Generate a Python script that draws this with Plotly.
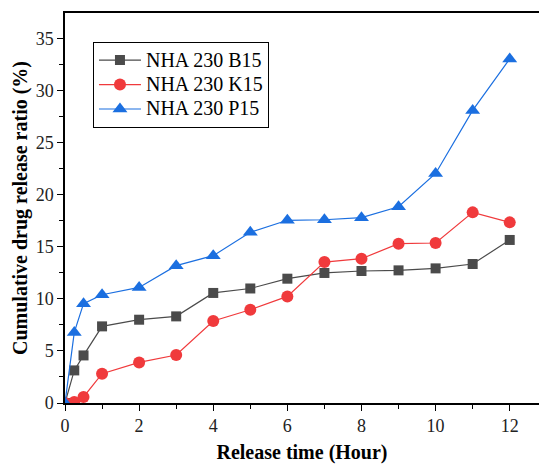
import plotly.graph_objects as go

# Sampling times (hours)
hours = [0, 0.25, 0.5, 1, 2, 3, 4, 5, 6, 7, 8, 9, 10, 11, 12]

# Cumulative drug release ratio (%) for each formulation
b15 = [0, 3.13, 4.57, 7.36, 8.0, 8.32, 10.57, 11.0, 11.94, 12.49, 12.68, 12.74, 12.93, 13.35, 15.66]
k15 = [0, 0.1, 0.58, 2.81, 3.9, 4.61, 7.88, 8.96, 10.24, 13.54, 13.86, 15.3, 15.37, 18.31, 17.35]
p15 = [0, 6.78, 9.54, 10.4, 11.1, 13.19, 14.15, 16.4, 17.55, 17.6, 17.8, 18.85, 22.05, 28.1, 33.05]

series_names = ["NHA 230 B15", "NHA 230 K15", "NHA 230 P15"]

FONT = "Liberation Serif"

fig = go.Figure()
styles = [
    (b15, "#4b4b4b", "square", 10),
    (k15, "#f03a3c", "circle", 12),
    (p15, "#1b6fe0", "triangle-up", 13),
]
for name, (vals, color, symbol, size) in zip(series_names, styles):
    fig.add_trace(go.Scatter(
        x=hours, y=vals, mode="lines+markers",
        # legend rows are spaced by the legend font size; the label itself is drawn larger
        name=f'<span style="font-size:20px">{name}</span>',
        line=dict(color=color, width=1.2),
        marker=dict(symbol=symbol, size=size, color=color, line=dict(width=0)),
    ))

axis_common = dict(
    showgrid=False, zeroline=False,
    showline=True, linecolor="black", linewidth=1.5,
    ticks="outside", ticklen=6, tickwidth=1.2, tickcolor="black",
    tickfont=dict(family=FONT, size=18, color="#222"),
)

fig.update_xaxes(
    **axis_common,
    range=[0, 12.79], dtick=2, tick0=0, mirror=True,
    minor=dict(ticks="outside", ticklen=4, tickwidth=1, dtick=1, tickcolor="black"),
    title=dict(text="<b>Release time (Hour)</b>",
               font=dict(family=FONT, size=20, color="black"), standoff=14),
)
fig.update_yaxes(
    **axis_common,
    range=[0, 37.46], dtick=5, tick0=0,
    minor=dict(ticks="outside", ticklen=4, tickwidth=1, dtick=2.5, tickcolor="black"),
    title=dict(text="<b>Cumulative drug release ratio (%)</b>",
               font=dict(family=FONT, size=20, color="black"), standoff=3),
)

fig.update_layout(
    width=539, height=464,
    margin=dict(l=65, r=0, t=13, b=61),
    paper_bgcolor="white", plot_bgcolor="white",
    font=dict(family=FONT),
    legend=dict(
        x=0.059, y=0.926, xanchor="left", yanchor="top",
        bordercolor="black", borderwidth=1, bgcolor="white",
        font=dict(family=FONT, size=16.5, color="black"),
        itemwidth=42, tracegroupgap=0,
    ),
    showlegend=True,
)

fig.write_html("out.html")
